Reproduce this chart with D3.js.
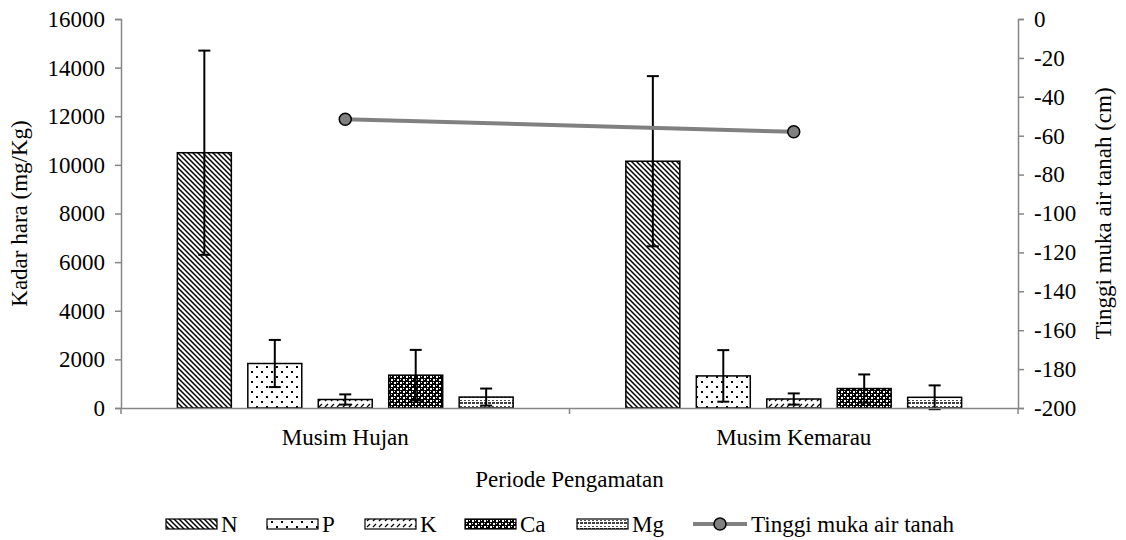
<!DOCTYPE html>
<html>
<head>
<meta charset="utf-8">
<script src="https://cdn.jsdelivr.net/npm/d3@7"></script>
<style>
  html, body { margin: 0; padding: 0; background: #fff; }
</style>
</head>
<body>
<svg id="chart" width="1126" height="540"></svg>
<script>
// Nutrient content (mg/Kg) per observation period, with standard deviations
const periods = ["Musim Hujan", "Musim Kemarau"];
const nutrients = ["N", "P", "K", "Ca", "Mg"];
const meanN  = [10500, 10150];
const meanP  = [1830, 1320];
const meanK  = [350, 370];
const meanCa = [1350, 800];
const meanMg = [450, 440];
const sdN  = [4200, 3500];
const sdP  = [970, 1060];
const sdK  = [210, 230];
const sdCa = [1040, 580];
const sdMg = [350, 490];
// Groundwater level (cm)
const waterTable = [-51.5, -58];
const leftTicks = [0, 2000, 4000, 6000, 8000, 10000, 12000, 14000, 16000];
const rightTicks = [0, -20, -40, -60, -80, -100, -120, -140, -160, -180, -200];

const means = [meanN, meanP, meanK, meanCa, meanMg];
const sds = [sdN, sdP, sdK, sdCa, sdMg];

const svg = d3.select("#chart");
const axisColor = "#868686";
const fontSize = "23px";
const serif = '"Liberation Serif", "Times New Roman", serif';

const plot = { left: 121, right: 1018, top: 19, bottom: 408 };

const x0 = d3.scaleBand().domain(periods).range([plot.left, plot.right]).padding(0);
const x1 = d3.scaleBand().domain(nutrients).range([0, x0.bandwidth()])
  .paddingInner(0.234).paddingOuter(0.8);
const yL = d3.scaleLinear().domain([0, 16000]).range([plot.bottom, plot.top]);
const yR = d3.scaleLinear().domain([-200, 0]).range([plot.bottom, plot.top]);

function label(sel) {
  return sel.style("font-family", serif).style("font-size", fontSize).style("fill", "#000");
}

// ---- fill patterns ----
const defs = svg.append("defs");
function pattern(id, w, h, draw) {
  const p = defs.append("pattern").attr("id", id).attr("patternUnits", "userSpaceOnUse")
    .attr("width", w).attr("height", h);
  p.append("rect").attr("width", w).attr("height", h).attr("fill", "#fff");
  draw(p);
}
// N: dense downward diagonals
pattern("pN", 5, 5, p => {
  p.append("path").attr("d", "M-1,-1 L6,6 M-1,4 L1,6 M4,-1 L6,1")
    .attr("stroke", "#000").attr("stroke-width", 1.5);
});
// P: sparse dots
pattern("pP", 10, 10, p => {
  p.append("rect").attr("x", 1).attr("y", 1).attr("width", 2).attr("height", 2).attr("fill", "#000");
  p.append("rect").attr("x", 6).attr("y", 6).attr("width", 2).attr("height", 2).attr("fill", "#000");
});
// K: light upward dashes
pattern("pK", 6, 6, p => {
  p.append("path").attr("d", "M1,5 L4,2").attr("stroke", "#000").attr("stroke-width", 1.2);
});
// Ca: dark checker
pattern("pCa", 6, 6, p => {
  p.append("rect").attr("width", 6).attr("height", 6).attr("fill", "#000");
  p.append("rect").attr("x", 1).attr("y", 1).attr("width", 2).attr("height", 2).attr("fill", "#fff");
  p.append("rect").attr("x", 4).attr("y", 4).attr("width", 2).attr("height", 2).attr("fill", "#fff");
  p.append("rect").attr("x", 4).attr("y", 1).attr("width", 1).attr("height", 1).attr("fill", "#fff");
  p.append("rect").attr("x", 1).attr("y", 4).attr("width", 1).attr("height", 1).attr("fill", "#fff");
});
// Mg: dashed grid
pattern("pMg", 8, 6, p => {
  p.append("path").attr("d", "M0,1 L3,1 M4,1 L7,1 M1,4 L1,5 M5,4 L5,5")
    .attr("stroke", "#000").attr("stroke-width", 1.4);
});
const fills = { N: "url(#pN)", P: "url(#pP)", K: "url(#pK)", Ca: "url(#pCa)", Mg: "url(#pMg)" };

// ---- bars ----
const rows = [];
periods.forEach((per, i) => nutrients.forEach((nu, j) => {
  rows.push({ per, nu, v: means[j][i], sd: sds[j][i] });
}));

const gBars = svg.append("g");
gBars.selectAll("rect").data(rows).join("rect")
  .attr("x", d => x0(d.per) + x1(d.nu))
  .attr("y", d => yL(d.v))
  .attr("width", x1.bandwidth())
  .attr("height", d => yL(0) - yL(d.v))
  .attr("fill", d => fills[d.nu])
  .attr("stroke", "#000").attr("stroke-width", 1.5);

// error bars
const gErr = svg.append("g").attr("stroke", "#000").attr("stroke-width", 2);
rows.forEach(d => {
  const cx = x0(d.per) + x1(d.nu) + x1.bandwidth() / 2;
  gErr.append("line").attr("x1", cx).attr("x2", cx)
    .attr("y1", yL(d.v - d.sd)).attr("y2", yL(d.v + d.sd));
  gErr.append("line").attr("x1", cx - 6).attr("x2", cx + 6)
    .attr("y1", yL(d.v + d.sd)).attr("y2", yL(d.v + d.sd));
  gErr.append("line").attr("x1", cx - 6).attr("x2", cx + 6)
    .attr("y1", yL(d.v - d.sd)).attr("y2", yL(d.v - d.sd));
});

// ---- axes ----
function styleAxis(g) {
  g.select(".domain").attr("stroke", axisColor).attr("stroke-width", 1.5);
  g.selectAll(".tick line").attr("stroke", axisColor).attr("stroke-width", 1.5);
  label(g.selectAll(".tick text"));
}

const axL = svg.append("g").attr("transform", `translate(${plot.left},0)`)
  .call(d3.axisLeft(yL).tickValues(leftTicks).tickSize(6).tickSizeOuter(6).tickPadding(10)
    .tickFormat(d3.format("d")));
styleAxis(axL);

const axR = svg.append("g").attr("transform", `translate(${plot.right},0)`)
  .call(d3.axisRight(yR).tickValues(rightTicks).tickSize(6).tickSizeOuter(6).tickPadding(10)
    .tickFormat(d => d3.format("d")(d).replace("−", "-")));
styleAxis(axR);

const axB = svg.append("g").attr("transform", `translate(0,${plot.bottom})`)
  .call(d3.axisBottom(x0).tickSize(0).tickPadding(21));
styleAxis(axB);
// category separators
const seps = [plot.left, x0(periods[1]), plot.right];
axB.selectAll(".sep").data(seps).join("line").attr("class", "sep")
  .attr("x1", d => d).attr("x2", d => d).attr("y1", 0).attr("y2", 6)
  .attr("stroke", axisColor).attr("stroke-width", 1.5);

// ---- water table line ----
const cxOf = p => x0(p) + x0.bandwidth() / 2;
const line = d3.line().x((d, i) => cxOf(periods[i])).y(d => yR(d));
svg.append("path").datum(waterTable).attr("d", line)
  .attr("fill", "none").attr("stroke", "#808080").attr("stroke-width", 4);
svg.selectAll(".wt").data(waterTable).join("circle").attr("class", "wt")
  .attr("cx", (d, i) => cxOf(periods[i])).attr("cy", d => yR(d)).attr("r", 6)
  .attr("fill", "#808080").attr("stroke", "#000").attr("stroke-width", 1.5);

// ---- titles ----
label(svg.append("text").attr("transform", `translate(22,${(plot.top + plot.bottom) / 2}) rotate(-90)`)
  .attr("text-anchor", "middle").attr("dominant-baseline", "middle")
  .text("Kadar hara (mg/Kg)"));
label(svg.append("text").attr("transform", `translate(1106,${(plot.top + plot.bottom) / 2}) rotate(-90)`)
  .attr("text-anchor", "middle").attr("dominant-baseline", "middle")
  .text("Tinggi muka air tanah (cm)"));
label(svg.append("text").attr("x", (plot.left + plot.right) / 2).attr("y", 487)
  .attr("text-anchor", "middle").text("Periode Pengamatan"));

// ---- legend ----
const legendItems = [
  { key: "N", x: 166 }, { key: "P", x: 267 }, { key: "K", x: 365 },
  { key: "Ca", x: 465 }, { key: "Mg", x: 577 }
];
const legY = 524;
const gLeg = svg.append("g");
legendItems.forEach(it => {
  gLeg.append("rect").attr("x", it.x).attr("y", legY - 5).attr("width", 51).attr("height", 10)
    .attr("fill", fills[it.key]).attr("stroke", "#000").attr("stroke-width", 1.2);
  label(gLeg.append("text").attr("x", it.x + 55).attr("y", legY + 8).text(it.key));
});
gLeg.append("line").attr("x1", 693).attr("x2", 747).attr("y1", legY).attr("y2", legY)
  .attr("stroke", "#808080").attr("stroke-width", 4);
gLeg.append("circle").attr("cx", 720).attr("cy", legY).attr("r", 6)
  .attr("fill", "#808080").attr("stroke", "#000").attr("stroke-width", 1.5);
label(gLeg.append("text").attr("x", 751).attr("y", legY + 8).text("Tinggi muka air tanah"));
</script>
</body>
</html>
